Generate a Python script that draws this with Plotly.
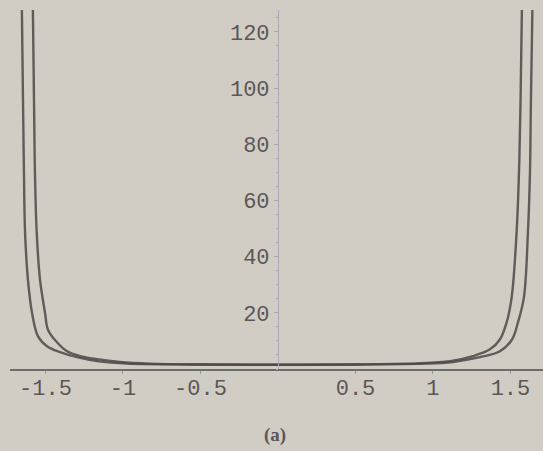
import plotly.graph_objects as go

# values
inner_x = [-1.584, -1.574, -1.568, -1.557, -1.535, -1.503, -1.484, -1.426, -1.361, -1.277,
           -1.168, -1.019, -0.826, -0.5, 0.0, 0.5, 0.826, 0.897, 1.110, 1.258, 1.368,
           1.432, 1.475, 1.508, 1.540, 1.555, 1.565, 1.577]
inner_y = [140, 95, 70, 49, 31.6, 20, 14, 9.5, 6.3, 4.6,
           3.5, 2.5, 1.9, 1.6, 1.5, 1.6, 1.9, 2.0, 2.8, 4.6, 7.0,
           10.5, 16.5, 25.6, 49, 70, 95, 140]

outer_x = [-1.655, -1.645, -1.639, -1.632, -1.613, -1.587, -1.548, -1.490, -1.406, -1.297,
           -1.168, -0.974, -0.5, 0.0, 0.5, 0.95, 1.129, 1.303, 1.432, 1.510,
           1.548, 1.587, 1.613, 1.626, 1.632, 1.645]
outer_y = [140, 95, 70, 49, 31.6, 20, 11.6, 8.1, 6.0, 4.2,
           2.8, 1.9, 1.6, 1.5, 1.6, 1.9, 2.5, 4.2, 6.3, 10.5,
           16.5, 25.6, 49, 70, 95, 140]

x_ticks = [-1.5, -1, -0.5, 0.5, 1, 1.5]
x_labels = ["-1.5", "-1", "-0.5", "0.5", "1", "1.5"]
y_ticks = [20, 40, 60, 80, 100, 120]
y_labels = ["20", "40", "60", "80", "100", "120"]
caption = "(a)"

bg = "#d2cdc4"
line_col = "rgba(75,72,72,0.85)"
txt_col = "#5a5757"

fig = go.Figure()
for xs, ys in [(outer_x, outer_y), (inner_x, inner_y)]:
    fig.add_trace(go.Scatter(x=xs, y=ys, mode="lines",
                             line=dict(color=line_col, width=2.4, shape="spline", smoothing=1.0),
                             showlegend=False, hoverinfo="skip"))

fig.update_layout(
    width=543, height=451,
    margin=dict(l=10, r=0, t=10, b=82),
    paper_bgcolor=bg, plot_bgcolor=bg,
    font=dict(family="Liberation Mono", size=22, color=txt_col),
    xaxis=dict(range=[-1.729, 1.710], showgrid=False, zeroline=False, automargin=False,
               tickvals=x_ticks, ticktext=x_labels,
               showline=True, linecolor="#6e6b6b", linewidth=1.5,
               ticks="outside", ticklen=3, tickcolor="#9a97a0",
               ticklabelstandoff=-5,
               tickfont=dict(family="Liberation Mono", size=22, color=txt_col)),
    yaxis=dict(range=[0, 127.8], showgrid=False, zeroline=False, automargin=False,
               anchor="free", position=0.5028,
               tickvals=y_ticks, ticktext=y_labels,
               showline=True, linecolor="#aaa6b4", linewidth=1,
               ticks="outside", ticklen=4, tickcolor="#aaa6b4",
               minor=dict(dtick=5, ticks="outside", ticklen=2, tickcolor="#aaa6b4"),
               tickfont=dict(family="Liberation Mono", size=22, color=txt_col)),
    annotations=[dict(text="<b>" + caption + "</b>", x=0.497, y=-0.221, xref="paper", yref="paper",
                      showarrow=False, font=dict(family="Liberation Serif", size=19, color=txt_col))],
)

fig.write_html("out.html", config={"displayModeBar": False},
               post_script="document.body.style.margin='0';document.body.style.background='%s';" % bg)
